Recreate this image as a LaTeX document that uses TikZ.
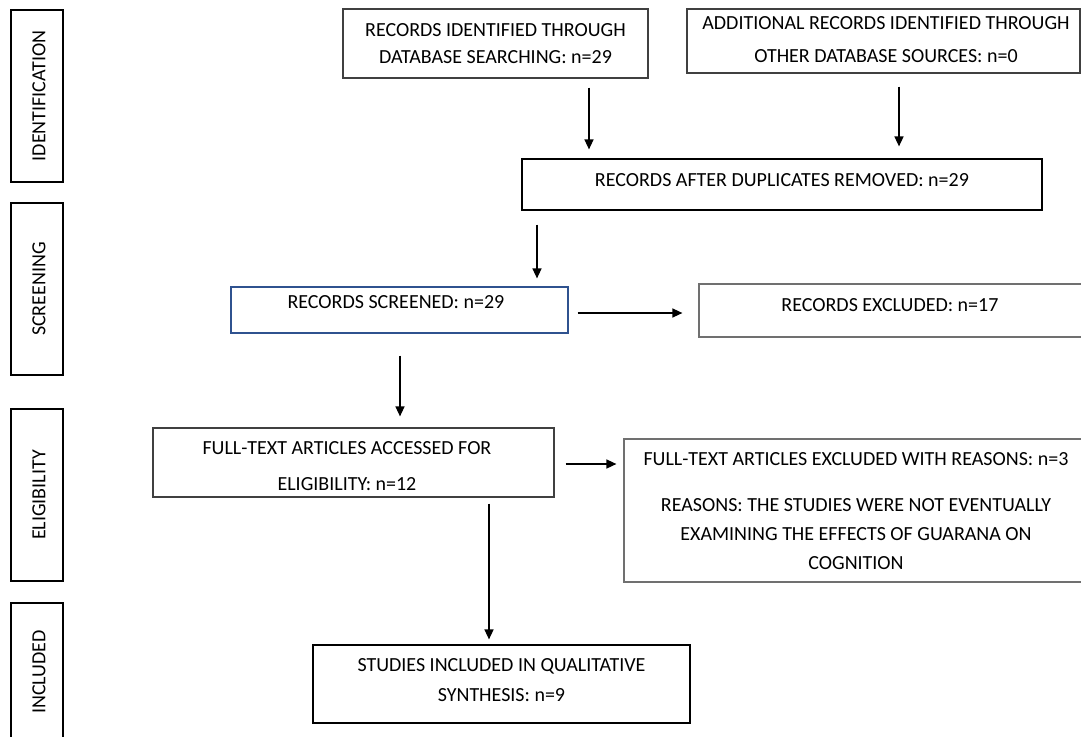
\documentclass[tikz,border=0pt]{standalone}
\usepackage{fontspec}
\setmainfont{Carlito}
\usetikzlibrary{arrows.meta}
\definecolor{bA}{HTML}{404040}
\definecolor{bD}{HTML}{2F528F}
\definecolor{bE}{HTML}{707070}
\begin{document}
\begin{tikzpicture}[x=1pt,y=-1pt,
  box/.style={draw=bA, rectangle, inner sep=0pt, line width=1.2pt},
  sidebox/.style={draw=black, rectangle, inner sep=0pt, line width=1.2pt, minimum width=52pt, minimum height=172pt},
  txt/.style={font=\fontsize{20}{27}\selectfont, align=center, inner sep=0pt, text=black},
  sidetxt/.style={font=\fontsize{20}{24}\selectfont, inner sep=0pt, rotate=90},
  arr/.style={line width=1.5pt, -{Triangle[length=10pt,width=9pt]}}]
\useasboundingbox (0,0) rectangle (1081,736);
\clip (0,0) rectangle (1081,736);
\fill[white] (0,0) rectangle (1081,736);

% side boxes
\node[sidebox] (sid) at (37,96) {};
\node[sidebox] (ssc) at (37,289) {};
\node[sidebox] (sel) at (37,495) {};
\node[sidebox] (sin) at (37,689) {};
\node[sidetxt] (tid) at (39,96) {IDENTIFICATION};
\node[sidetxt] (tsc) at (39,289) {SCREENING};
\node[sidetxt] (tel) at (39,495) {ELIGIBILITY};
\node[sidetxt] (tin) at (39,672) {INCLUDED};

% boxes
\node[box, minimum width=305pt, minimum height=69pt] (A) at (495.5,43.5) {};
\node[box, minimum width=393pt, minimum height=64pt] (B) at (883.5,41) {};
\node[box, draw=black, minimum width=520pt, minimum height=51pt] (C) at (782,184.5) {};
\node[box, draw=bD, minimum width=337pt, minimum height=46pt] (D) at (399.5,310) {};
\node[box, draw=bE, minimum width=391pt, minimum height=53pt] (E) at (894.5,310.5) {};
\node[box, minimum width=401pt, minimum height=69pt] (F) at (353.5,462.5) {};
\node[box, draw=bE, minimum width=466pt, minimum height=143pt] (G) at (857,510.5) {};
\node[box, draw=black, minimum width=377pt, minimum height=78pt] (H) at (501.5,684) {};

% texts
\node[txt] (At) at (495.5,43.5) {RECORDS IDENTIFIED THROUGH\\DATABASE SEARCHING: n=29};
\node[txt, font=\fontsize{20}{33}\selectfont] (Bt) at (886,40) {ADDITIONAL RECORDS IDENTIFIED THROUGH\\OTHER DATABASE SOURCES: n=0};
\node[txt] (Ct) at (782,180) {RECORDS AFTER DUPLICATES REMOVED: n=29};
\node[txt] (Dt) at (396,302) {RECORDS SCREENED: n=29};
\node[txt] (Et) at (890,305) {RECORDS EXCLUDED: n=17};
\node[txt, font=\fontsize{20}{36}\selectfont] (Ft) at (347,466) {FULL-TEXT ARTICLES ACCESSED FOR\\ELIGIBILITY: n=12};
\node[txt, font=\fontsize{20}{29}\selectfont] (Gt) at (856,511) {FULL-TEXT ARTICLES EXCLUDED WITH REASONS: n=3\\[17pt]REASONS: THE STUDIES WERE NOT EVENTUALLY\\EXAMINING THE EFFECTS OF GUARANA ON\\COGNITION};
\node[txt, font=\fontsize{20}{30}\selectfont] (Ht) at (501.5,680) {STUDIES INCLUDED IN QUALITATIVE\\SYNTHESIS: n=9};

% arrows
\draw[arr, shorten <=9pt, shorten >=9pt] ([xshift=93.5pt]A.south) -- ([xshift=-193pt]C.north);
\draw[arr, shorten <=13pt, shorten >=12pt] ([xshift=15.5pt]B.south) -- ([xshift=117pt]C.north);
\draw[arr, shorten <=14pt, shorten >=8pt] ([xshift=-245pt]C.south) -- ([xshift=137.5pt]D.north);
\draw[arr, shorten <=9pt, shorten >=16pt] ([yshift=-3pt]D.east) -- ([yshift=-2.5pt]E.west);
\draw[arr, shorten <=22pt, shorten >=11pt] ([xshift=0.5pt]D.south) -- ([xshift=46.5pt]F.north);
\draw[arr, shorten <=11pt, shorten >=7pt] ([yshift=-1.5pt]F.east) -- ([yshift=46.5pt]G.west);
\draw[arr, shorten <=6pt, shorten >=5pt] ([xshift=135.5pt]F.south) -- ([xshift=-12.5pt]H.north);
\end{tikzpicture}
\end{document}
